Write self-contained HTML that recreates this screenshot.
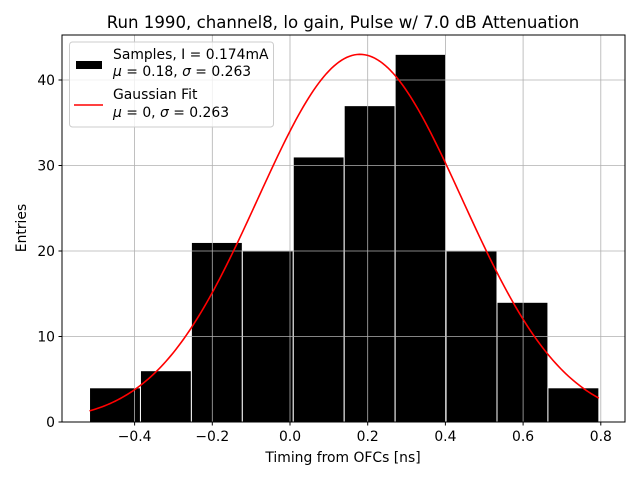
<!DOCTYPE html>
<html><head><meta charset="utf-8"><style>
body{margin:0;background:#fff}
svg{font-family:"DejaVu Sans","Liberation Sans",sans-serif}
</style></head><body>
<svg id="chart" width="640" height="480" xmlns="http://www.w3.org/2000/svg">
<rect width="640" height="480" fill="#fff"/>
<text x="343" y="28" font-size="16.6" text-anchor="middle">Run 1990, channel8, lo gain, Pulse w/ 7.0 dB Attenuation</text>
<g id="bars"></g>
<g id="grid"></g>
<path id="fit" fill="none" stroke="#f00" stroke-width="1.6"/>
<rect x="62" y="35" width="563" height="387" fill="none" stroke="#000" stroke-width="1"/>
<g id="ticks"></g>
<text x="343" y="462" font-size="13.9" text-anchor="middle">Timing from OFCs [ns]</text>
<text transform="translate(26,228) rotate(-90)" font-size="13.9" text-anchor="middle">Entries</text>
<g>
<rect x="69.5" y="42" width="204" height="85" rx="3" fill="#fff" fill-opacity="0.8" stroke="#ccc"/>
<rect x="76" y="61" width="26" height="8" fill="#000"/>
<text x="113" y="59" font-size="13.9">Samples, I = 0.174mA</text>
<text x="113" y="76" font-size="13.9"><tspan font-style="italic">μ</tspan> = 0.18, <tspan font-style="italic">σ</tspan> = 0.263</text>
<line x1="74" y1="105" x2="103" y2="105" stroke="#f00" stroke-width="1.6"/>
<text x="113" y="99" font-size="13.9">Gaussian Fit</text>
<text x="113" y="117" font-size="13.9"><tspan font-style="italic">μ</tspan> = 0, <tspan font-style="italic">σ</tspan> = 0.263</text>
</g>
</svg>
<script>
const binStart = -0.516;
const binWidth = 0.1311;
const counts = [4, 6, 21, 20, 31, 37, 43, 20, 14, 4];
const fitAmp = 43;
const fitMu = 0.18;
const fitSigma = 0.263;
const xTicks = [-0.4, -0.2, 0.0, 0.2, 0.4, 0.6, 0.8];
const yTicks = [0, 10, 20, 30, 40];

const X = v => 290 + (v - 0) * 388.5;
const Y = v => 422 - v * 8.55;
const NS = "http://www.w3.org/2000/svg";
function mk(tag, attrs, parent){const e=document.createElementNS(NS,tag);for(const k in attrs)e.setAttribute(k,attrs[k]);parent.appendChild(e);return e;}

const bars=document.getElementById('bars');
counts.forEach((c,i)=>{
  const x0=X(binStart+i*binWidth), x1=X(binStart+(i+1)*binWidth);
  const r=mk('rect',{x:x0,y:Y(c),width:x1-x0,height:Y(0)-Y(c),fill:'#000',stroke:'#fff','stroke-width':1},bars);
  
  
});
const grid=document.getElementById('grid'), ticks=document.getElementById('ticks');
xTicks.forEach(t=>{
  const x=X(t);
  const g=mk('line',{x1:x,x2:x,y1:35,y2:422,stroke:'#b0b0b0','stroke-width':0.8},grid);
  
  
  mk('line',{x1:x,x2:x,y1:422,y2:425.5,stroke:'#000'},ticks);
  const tx=mk('text',{x:x,y:441,'font-size':13.9,'text-anchor':'middle'},ticks);
  tx.textContent=(t<0?'\u2212':'')+Math.abs(t).toFixed(1);
  
  
});
yTicks.forEach(t=>{
  const y=Y(t);
  const g=mk('line',{x1:62,x2:625,y1:y,y2:y,stroke:'#b0b0b0','stroke-width':0.8},grid);
  
  
  mk('line',{x1:58.5,x2:62,y1:y,y2:y,stroke:'#000'},ticks);
  const tx=mk('text',{x:55,y:y+5,'font-size':13.9,'text-anchor':'end'},ticks);
  tx.textContent=t;
  
  
});
let d='';
const xa=binStart, xb=binStart+counts.length*binWidth;
for(let i=0;i<=200;i++){
  const v=xa+(xb-xa)*i/200;
  const f=fitAmp*Math.exp(-Math.pow(v-fitMu,2)/(2*fitSigma*fitSigma));
  d+=(i?'L':'M')+X(v).toFixed(2)+','+Y(f).toFixed(2);
}
document.getElementById('fit').setAttribute('d',d);
</script>
</body></html>
